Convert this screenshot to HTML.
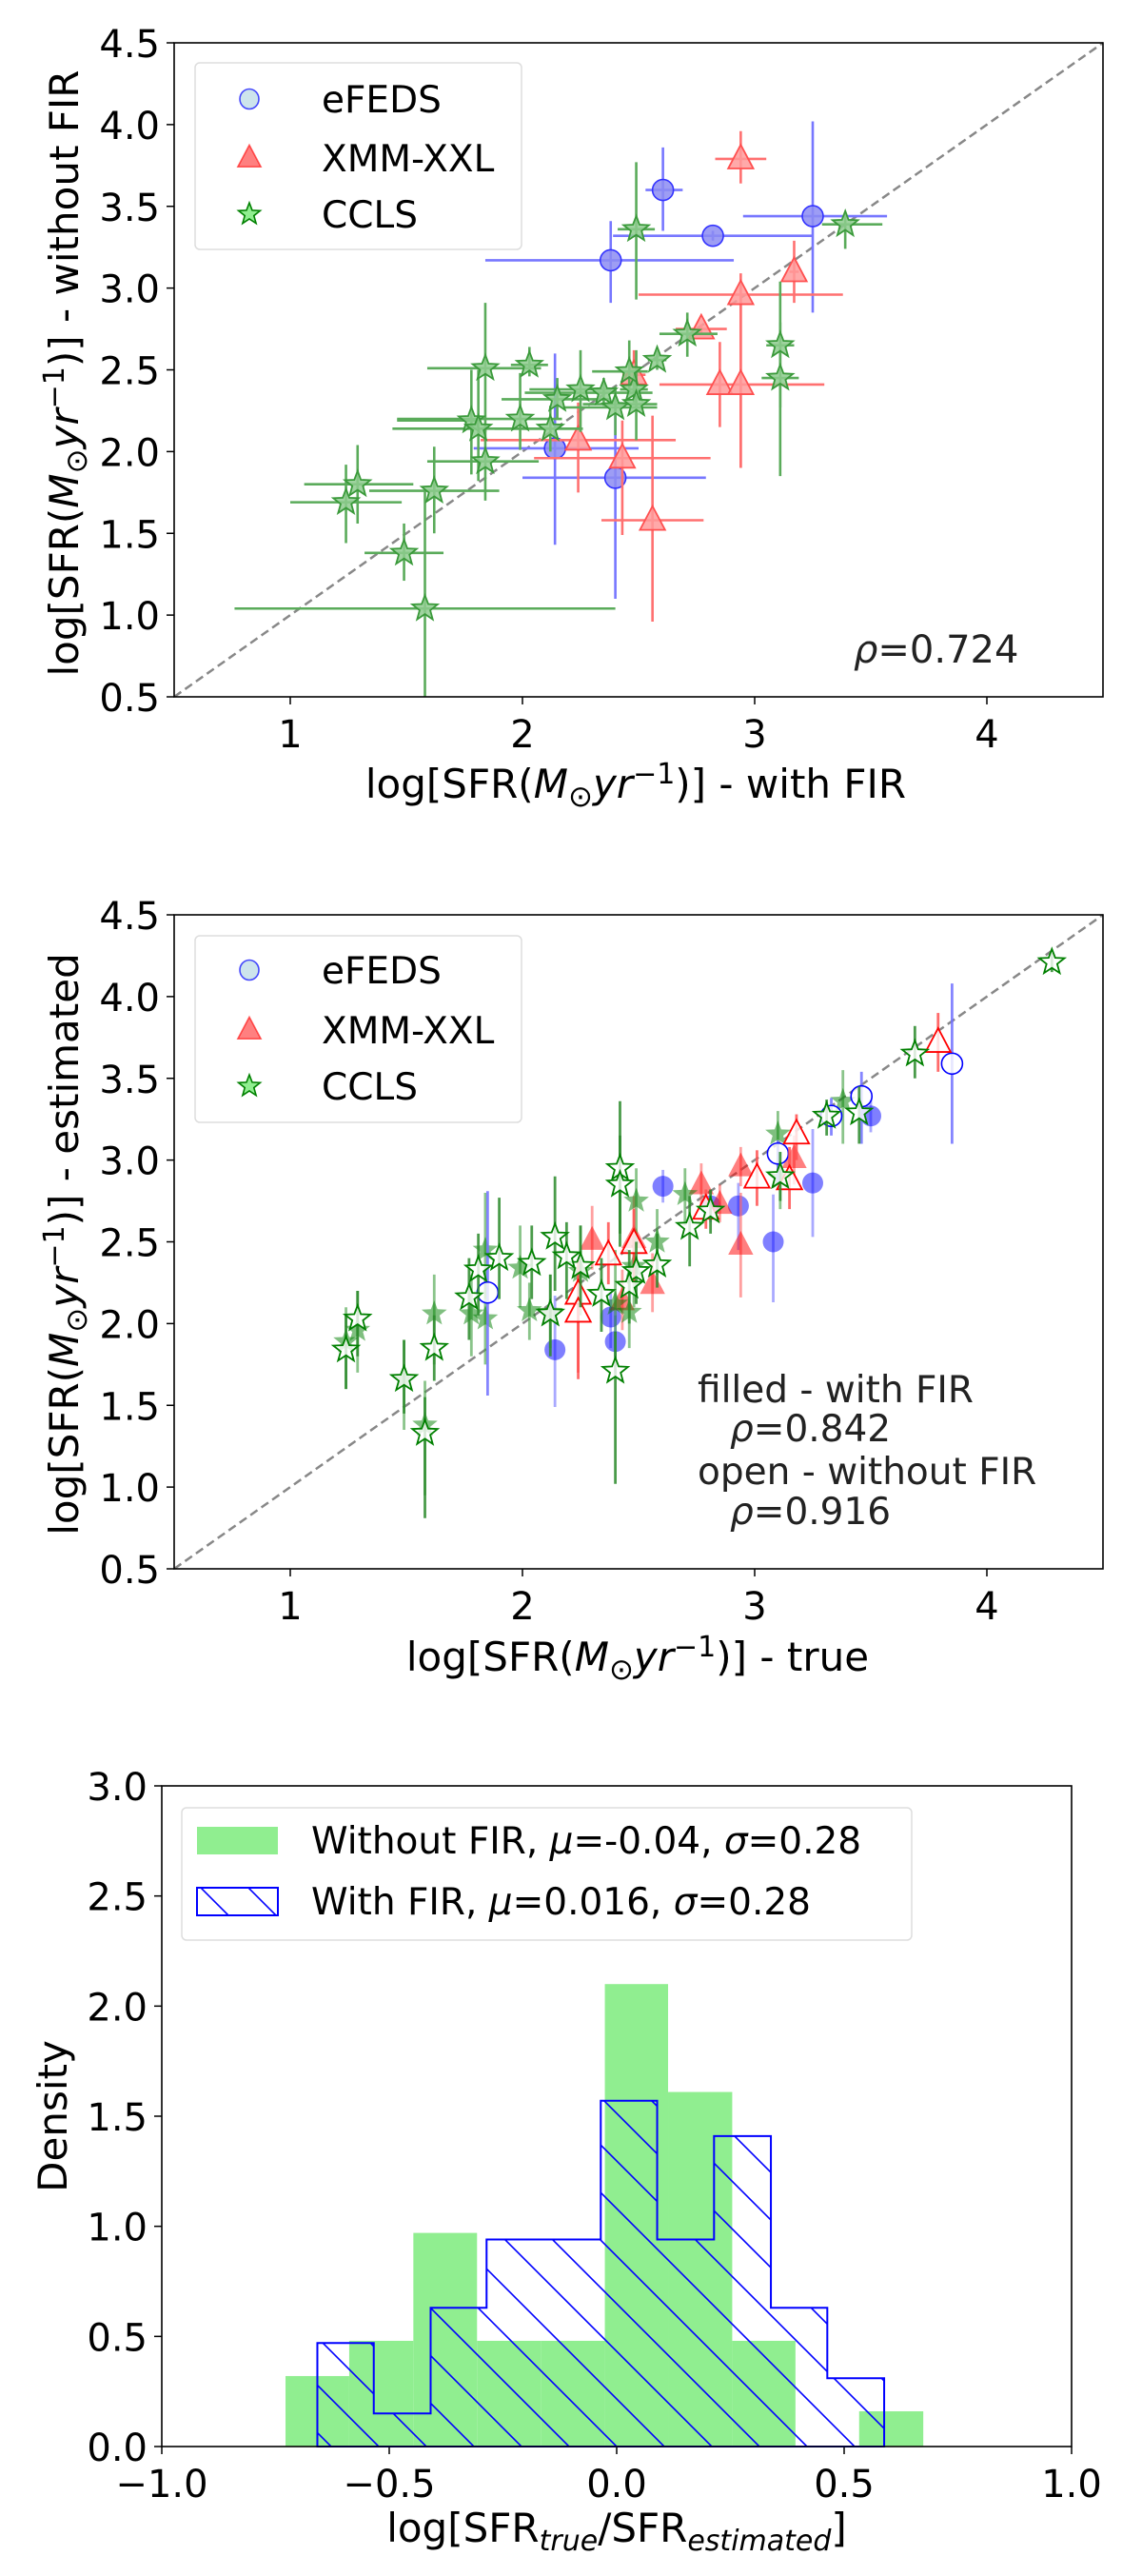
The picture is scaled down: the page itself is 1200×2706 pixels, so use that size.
<!DOCTYPE html>
<html><head><meta charset="utf-8"><style>
html,body{margin:0;padding:0;background:#fff}
svg text{font-family:"DejaVu Sans","Liberation Sans",sans-serif}
</style></head><body>
<svg id="fig" xmlns="http://www.w3.org/2000/svg" width="1200" height="2701" viewBox="0 0 1200 2701">
<defs>
<pattern id="hatch" patternUnits="userSpaceOnUse" x="28" y="0" width="50" height="50">
<path d="M0,0 L50,50 M-2,48 L2,52 M48,-2 L52,2" stroke="#0000ff" stroke-width="1.6"/>
</pattern>
</defs>
<g id="p1"></g>
<g id="p2"></g>
<g id="p3"></g>
</svg>
<script>
// ---------- Panel 1 data (with FIR vs without FIR) ----------
const p1EfedsX=[2.605,2.82,2.38,3.25,2.14,2.40];
const p1EfedsY=[3.60,3.32,3.17,3.44,2.02,1.84];
const p1EfedsXlo=[2.53,2.39,1.84,2.95,1.79,2.00];
const p1EfedsXhi=[2.69,3.25,2.91,3.57,2.50,2.79];
const p1EfedsYlo=[3.35,3.29,2.91,2.85,1.43,1.10];
const p1EfedsYhi=[3.86,3.35,3.41,4.02,2.60,2.29];
const p1XxlX=[2.94,3.17,2.94,2.77,2.48,2.85,2.94,2.24,2.43,2.56];
const p1XxlY=[3.79,3.10,2.96,2.75,2.47,2.41,2.41,2.07,1.96,1.58];
const p1XxlXlo=[2.83,3.15,2.50,2.66,2.43,2.83,2.59,1.82,2.05,2.34];
const p1XxlXhi=[3.05,3.19,3.38,2.88,2.53,2.87,3.30,2.66,2.81,2.78];
const p1XxlYlo=[3.64,2.91,1.90,2.72,2.35,2.15,1.90,1.75,1.49,0.96];
const p1XxlYhi=[3.96,3.29,3.04,2.78,2.62,2.67,3.09,2.30,2.19,2.22];
const p1CclsX=[2.49,3.39,2.71,2.58,3.11,3.11,1.84,2.03,2.25,2.15,2.35,2.48,2.40,2.49,2.46,1.99,1.78,1.81,2.12,1.84,1.29,1.24,1.62,1.49,1.58];
const p1CclsY=[3.36,3.39,2.72,2.56,2.65,2.45,2.51,2.53,2.38,2.32,2.36,2.38,2.27,2.29,2.49,2.20,2.19,2.14,2.14,1.94,1.80,1.69,1.76,1.38,1.04];
const p1CclsXlo=[2.41,3.29,2.59,2.54,3.05,3.03,1.59,1.95,2.03,1.91,2.01,2.42,2.17,2.26,2.30,1.46,1.46,1.44,1.88,1.59,1.06,1.00,1.34,1.32,0.76];
const p1CclsXhi=[2.57,3.55,2.84,2.62,3.17,3.19,2.08,2.11,2.38,2.38,2.56,2.54,2.58,2.58,2.54,2.17,1.80,2.26,2.26,2.07,1.53,1.48,1.90,1.66,2.40];
const p1CclsYlo=[2.93,3.24,2.58,2.50,2.27,1.85,2.12,2.46,2.12,2.20,2.28,2.30,2.10,2.07,2.35,2.01,1.86,1.82,2.00,1.70,1.56,1.44,1.50,1.21,0.50];
const p1CclsYhi=[3.77,3.46,2.85,2.62,3.04,2.79,2.91,2.64,2.62,2.45,2.45,2.45,2.40,2.62,2.68,2.48,2.50,2.50,2.28,2.16,2.04,1.92,2.03,1.56,1.77];

// ---------- Panel 2 data (true vs estimated) ----------
const p2EfedsFX=[2.605,2.93,3.08,3.25,2.14,2.38,2.40,3.50,2.81];
const p2EfedsFY=[2.84,2.72,2.50,2.86,1.84,2.04,1.89,3.27,2.72];
const p2EfedsFYlo=[2.74,2.45,2.13,2.53,1.49,1.85,1.70,3.17,2.62];
const p2EfedsFYhi=[2.94,2.86,2.79,3.19,2.17,2.20,2.05,3.37,2.82];
const p2EfedsOX=[1.85,3.10,3.46,3.33,3.85];
const p2EfedsOY=[2.19,3.04,3.39,3.27,3.59];
const p2EfedsOYlo=[1.56,2.85,3.10,3.15,3.10];
const p2EfedsOYhi=[2.81,3.12,3.54,3.38,4.08];
const p2XxlFX=[2.94,2.94,2.77,2.85,2.30,3.17,2.48,2.56,2.43];
const p2XxlFY=[2.96,2.48,2.85,2.73,2.51,3.01,2.52,2.24,2.14];
const p2XxlFYlo=[2.84,2.16,2.72,2.62,2.33,2.85,2.25,2.07,1.96];
const p2XxlFYhi=[3.08,2.80,2.98,2.85,2.72,3.15,2.78,2.43,2.33];
const p2XxlOX=[3.79,3.18,3.01,3.15,2.79,2.48,2.37,2.24,2.24];
const p2XxlOY=[3.72,3.16,2.89,2.88,2.70,2.49,2.42,2.18,2.07];
const p2XxlOYlo=[3.54,3.00,2.72,2.70,2.58,2.25,2.24,1.66,1.70];
const p2XxlOYhi=[3.90,3.28,3.06,3.08,2.82,2.70,2.62,2.39,2.29];
const p2CclsFX=[3.10,3.38,2.70,2.49,2.58,1.84,1.99,2.03,2.12,1.78,1.62,1.29,1.24,1.49,1.58,2.40,2.46,2.25,2.48,1.84,3.11];
const p2CclsFY=[3.16,3.36,2.79,2.75,2.50,2.45,2.34,2.08,2.07,2.06,2.06,1.96,1.89,1.66,1.38,2.12,2.07,2.32,2.35,2.03,2.89];
const p2CclsFYlo=[2.96,3.10,2.60,2.50,2.30,2.15,2.10,1.90,1.85,1.80,1.75,1.70,1.60,1.35,0.95,1.80,1.85,2.05,2.10,1.75,2.70];
const p2CclsFYhi=[3.30,3.55,2.95,2.95,2.70,2.80,2.60,2.25,2.30,2.30,2.30,2.20,2.10,1.90,1.65,2.45,2.35,2.60,2.55,2.35,3.05];
const p2CclsOX=[4.28,3.69,3.45,3.31,3.11,2.81,2.72,2.42,2.42,2.58,2.49,2.46,2.34,2.25,2.19,2.14,2.04,1.90,1.81,1.77,2.12,2.40,1.62,1.49,1.58,1.29,1.24];
const p2CclsOY=[4.21,3.65,3.29,3.27,2.90,2.69,2.59,2.95,2.85,2.36,2.32,2.23,2.18,2.35,2.41,2.53,2.37,2.40,2.33,2.16,2.06,1.71,1.85,1.66,1.33,2.03,1.84];
const p2CclsOYlo=[4.15,3.50,3.10,3.15,2.75,2.55,2.35,2.47,2.55,2.22,2.12,2.00,1.95,2.10,2.15,2.20,2.15,2.15,2.05,1.90,1.80,1.02,1.65,1.45,0.81,1.80,1.60];
const p2CclsOYhi=[4.27,3.82,3.45,3.37,3.05,2.82,2.78,3.36,3.15,2.55,2.50,2.45,2.40,2.60,2.62,2.90,2.60,2.77,2.55,2.40,2.30,1.95,2.05,1.90,1.55,2.20,2.05];

// ---------- Panel 3 data (histograms) ----------
const greenEdges=[-0.728,-0.588,-0.447,-0.307,-0.166,-0.026,0.113,0.254,0.393,0.533,0.674];
const greenDens=[0.32,0.48,0.97,0.48,0.48,2.10,1.61,0.48,0.0,0.16];
const blueEdges=[-0.658,-0.534,-0.409,-0.286,-0.160,-0.035,0.089,0.214,0.339,0.463,0.588];
const blueDens=[0.47,0.15,0.63,0.94,0.94,1.57,0.94,1.41,0.63,0.31];

const NS='http://www.w3.org/2000/svg';
function mk(parent,tag,attrs){const e=document.createElementNS(NS,tag);for(const k in attrs)e.setAttribute(k,attrs[k]);parent.appendChild(e);return e;}
function scale(d0,d1,r0,r1){return v=>r0+(v-d0)/(d1-d0)*(r1-r0);}
function starPath(cx,cy,R){const r=R*0.42;let s='';for(let i=0;i<10;i++){const a=-Math.PI/2+i*Math.PI/5;const rr=i%2?r:R;s+=(i?'L':'M')+(cx+rr*Math.cos(a)).toFixed(1)+','+(cy+rr*Math.sin(a)).toFixed(1);}return s+'Z';}
function triPath(cx,cy,s){return `M${cx},${cy-s*0.62}L${cx+s*0.55},${cy+s*0.42}L${cx-s*0.55},${cy+s*0.42}Z`;}

function frame(g,b,xt,yt,xfmt,yfmt,xlabFn,ylabFn,yLabelRight){
  const X=scale(b.dx0,b.dx1,b.x0,b.x1),Y=scale(b.dy0,b.dy1,b.y1,b.y0);
  xt.forEach(v=>{const x=X(v);
    const t=mk(g,'line',{x1:x,x2:x,y1:b.y1,y2:b.y1+8,stroke:'#000','stroke-width':1.5});
    
    const l=mk(g,'text',{x:x,y:b.y1+53,'font-size':40,'text-anchor':'middle',fill:'#000'});l.textContent=xfmt(v);
    });
  yt.forEach(v=>{const y=Y(v);
    const t=mk(g,'line',{x1:b.x0-8,x2:b.x0,y1:y,y2:y,stroke:'#000','stroke-width':1.5});
    
    const l=mk(g,'text',{x:yLabelRight,y:y+15,'font-size':40,'text-anchor':'end',fill:'#000'});l.textContent=yfmt(v);
    });
  return {X,Y};
}
function box(g,b){const r=mk(g,'rect',{x:b.x0,y:b.y0,width:b.x1-b.x0,height:b.y1-b.y0,fill:'none',stroke:'#000','stroke-width':1.6});
  }
function sfrLabel(g,x,y,rot,suffix,name){
  const t=mk(g,'text',{x:x,y:y,'font-size':42,'text-anchor':'middle',fill:'#000',transform:rot?`rotate(-90 ${x} ${y})`:''});
  
  t.innerHTML='log[SFR(<tspan font-style="italic">M</tspan><tspan font-size="31" dy="9">⊙</tspan><tspan dy="-9" font-style="italic">yr</tspan><tspan font-size="30" dy="-15">−1</tspan><tspan dy="15">)] - '+suffix+'</tspan>';
  return t;
}
function diag(g,X,Y){const l=mk(g,'line',{x1:X(0.5),y1:Y(0.5),x2:X(4.5),y2:Y(4.5),stroke:'#888','stroke-width':2.5,'stroke-dasharray':'9,5'});
  }
function legend(g,x,y,w,h,rows){
  const r=mk(g,'rect',{x:x,y:y,width:w,height:h,rx:5,fill:'#fff','fill-opacity':0.8,stroke:'#ddd','stroke-width':1.5});
  
  rows.forEach(([ry,kind,label])=>{
    const lg=mk(g,'g',{});
    const mx=x+57;
    if(kind==='c')mk(lg,'ellipse',{cx:mx,cy:ry,rx:10,ry:10.5,fill:'#cde4ec',stroke:'#0000ff','stroke-opacity':0.7,'stroke-width':1.6});
    if(kind==='t')mk(lg,'path',{d:triPath(mx,ry,22),fill:'#ff8080',stroke:'#ff0000','stroke-opacity':0.6,'stroke-width':1.6});
    if(kind==='s')mk(lg,'path',{d:starPath(mx,ry,12),fill:'#90ee90',stroke:'#008000','stroke-width':1.6});
    const t=mk(lg,'text',{x:x+133,y:ry+14,'font-size':39,fill:'#000'});t.textContent=label;
  });
}
function marker(g,kind,x,y,fill,stroke,fop,name){
  let e;
  if(kind==='c')e=mk(g,'circle',{cx:x,cy:y,r:11,fill:fill,'fill-opacity':fop,stroke:stroke,'stroke-width':1.6});
  else if(kind==='t')e=mk(g,'path',{d:triPath(x,y,24),fill:fill,'fill-opacity':fop,stroke:stroke,'stroke-width':1.8});
  else e=mk(g,'path',{d:starPath(x,y,14),fill:fill,'fill-opacity':fop,stroke:stroke,'stroke-width':1.8});
  
}

// ===== Panel 1 =====
(function(){
  const g=document.getElementById('p1');
  const b={x0:183,x1:1159,y0:45,y1:732,dx0:0.5,dx1:4.5,dy0:0.5,dy1:4.5};
  const {X,Y}=frame(g,b,[1,2,3,4],[0.5,1,1.5,2,2.5,3,3.5,4,4.5],v=>String(v),v=>v.toFixed(1),null,null,168);
  sfrLabel(g,668,838,false,'with FIR','x-axis-title');
  sfrLabel(g,82,392,true,'without FIR','y-axis-title');
  diag(g,X,Y);
  const series=[
    [p1EfedsX,p1EfedsY,p1EfedsXlo,p1EfedsXhi,p1EfedsYlo,p1EfedsYhi,'c','#7777ff','#8c8cf2','#3333ff','efeds-point'],
    [p1XxlX,p1XxlY,p1XxlXlo,p1XxlXhi,p1XxlYlo,p1XxlYhi,'t','#ff7070','#ff9a9a','#ff5050','xmm-xxl-point'],
    [p1CclsX,p1CclsY,p1CclsXlo,p1CclsXhi,p1CclsYlo,p1CclsYhi,'s','#5aab5a','#8ecb8e','#3a9a3a','ccls-point']];
  series.forEach(([xs,ys,xl,xh,yl,yh,k,ec,fc,sc,nm])=>{
    xs.forEach((v,i)=>{
      const e1=mk(g,'line',{x1:X(xl[i]),x2:X(xh[i]),y1:Y(ys[i]),y2:Y(ys[i]),stroke:ec,'stroke-width':2.6});
      
      const e2=mk(g,'line',{x1:X(v),x2:X(v),y1:Y(yl[i]),y2:Y(yh[i]),stroke:ec,'stroke-width':2.6});
      
    });
    xs.forEach((v,i)=>marker(g,k,X(v),Y(ys[i]),fc,sc,0.85,nm));
  });
  box(g,b);
  legend(g,205,66,343,196,[[104,'c','eFEDS'],[166,'t','XMM-XXL'],[225,'s','CCLS']]);
  const t=mk(g,'text',{x:897,y:696,'font-size':40,fill:'#222'});t.innerHTML='<tspan font-style="italic">ρ</tspan>=0.724';
  
})();

// ===== Panel 2 =====
(function(){
  const g=document.getElementById('p2');
  const b={x0:183,x1:1159,y0:961,y1:1648,dx0:0.5,dx1:4.5,dy0:0.5,dy1:4.5};
  const {X,Y}=frame(g,b,[1,2,3,4],[0.5,1,1.5,2,2.5,3,3.5,4,4.5],v=>String(v),v=>v.toFixed(1),null,null,168);
  sfrLabel(g,670,1755,false,'true','x-axis-title');
  sfrLabel(g,82,1307,true,'estimated','y-axis-title');
  diag(g,X,Y);
  const series=[
    [p2EfedsFX,p2EfedsFY,p2EfedsFYlo,p2EfedsFYhi,'c',true,'#7070ff','#0000ff','efeds-filled-point'],
    [p2XxlFX,p2XxlFY,p2XxlFYlo,p2XxlFYhi,'t',true,'#ff6060','#ff0000','xmm-xxl-filled-point'],
    [p2CclsFX,p2CclsFY,p2CclsFYlo,p2CclsFYhi,'s',true,'#3c9c3c','#008000','ccls-filled-point'],
    [p2EfedsOX,p2EfedsOY,p2EfedsOYlo,p2EfedsOYhi,'c',false,'#7070ff','#0000ff','efeds-open-point'],
    [p2XxlOX,p2XxlOY,p2XxlOYlo,p2XxlOYhi,'t',false,'#ff5050','#ff0000','xmm-xxl-open-point'],
    [p2CclsOX,p2CclsOY,p2CclsOYlo,p2CclsOYhi,'s',false,'#2a8a2a','#008000','ccls-open-point']];
  series.forEach(([xs,ys,yl,yh,k,filled,ec,sc,nm])=>{
    xs.forEach((v,i)=>{
      const e=mk(g,'line',{x1:X(v),x2:X(v),y1:Y(yl[i]),y2:Y(yh[i]),stroke:ec,'stroke-width':2.8,'stroke-opacity':filled?0.6:0.85});
      
    });
    xs.forEach((v,i)=>{
      if(filled)marker(g,k,X(v),Y(ys[i]),sc,'none',0.5,nm);
      else marker(g,k,X(v),Y(ys[i]),'#ffffff',sc,0.8,nm);
    });
  });
  box(g,b);
  legend(g,205,983,343,196,[[1019,'c','eFEDS'],[1082,'t','XMM-XXL'],[1141,'s','CCLS']]);
  const lines=[[733,1473,'filled - with FIR'],[767,1514,null,'0.842'],[733,1559,'open - without FIR'],[767,1601,null,'0.916']];
  lines.forEach(([x,y,s,r])=>{const t=mk(g,'text',{x:x,y:y,'font-size':39,fill:'#222'});
    if(s)t.textContent=s;else t.innerHTML='<tspan font-style="italic">ρ</tspan>='+r;
    });
})();

// ===== Panel 3 =====
(function(){
  const g=document.getElementById('p3');
  const b={x0:170,x1:1126,y0:1876,y1:2570,dx0:-1,dx1:1,dy0:0,dy1:3};
  const {X,Y}=frame(g,b,[-1,-0.5,0,0.5,1],[0,0.5,1,1.5,2,2.5,3],v=>(v<0?'−':'')+Math.abs(v).toFixed(1),v=>v.toFixed(1),null,null,155);
  greenDens.forEach((d,i)=>{if(d<=0)return;
    const r=mk(g,'rect',{x:X(greenEdges[i]),y:Y(d),width:X(greenEdges[i+1])-X(greenEdges[i]),height:Y(0)-Y(d),fill:'#90ee90'});
    });
  let p='M'+X(blueEdges[0])+','+Y(0);
  blueDens.forEach((d,i)=>{p+='L'+X(blueEdges[i])+','+Y(d)+'L'+X(blueEdges[i+1])+','+Y(d);});
  p+='L'+X(blueEdges[blueEdges.length-1])+','+Y(0)+'Z';
  const h=mk(g,'path',{d:p,fill:'url(#hatch)',stroke:'#0000ff','stroke-width':2});
  
  box(g,b);
  const xl=mk(g,'text',{x:648,y:2670,'font-size':42,'text-anchor':'middle',fill:'#000'});
  xl.innerHTML='log[SFR<tspan font-size="30" font-style="italic" dy="9">true</tspan><tspan dy="-9">/SFR</tspan><tspan font-size="30" font-style="italic" dy="9">estimated</tspan><tspan dy="-9">]</tspan>';
  
  const yl=mk(g,'text',{x:70,y:2223,'font-size':42,'text-anchor':'middle',fill:'#000',transform:'rotate(-90 70 2223)'});yl.textContent='Density';
  
  const lb=mk(g,'rect',{x:191,y:1899,width:767,height:139,rx:5,fill:'#fff','fill-opacity':0.8,stroke:'#ddd','stroke-width':1.5});
  
  const e1=mk(g,'g',{});
  mk(e1,'rect',{x:207,y:1919,width:85,height:29,fill:'#90ee90'});
  const t1=mk(e1,'text',{x:327,y:1947,'font-size':39,fill:'#000'});t1.innerHTML='Without FIR, <tspan font-style="italic">μ</tspan>=-0.04, <tspan font-style="italic">σ</tspan>=0.28';
  const e2=mk(g,'g',{});
  mk(e2,'rect',{x:207,y:1983,width:85,height:29,fill:'url(#hatch)',stroke:'#0000ff','stroke-width':2});
  const t2=mk(e2,'text',{x:327,y:2011,'font-size':39,fill:'#000'});t2.innerHTML='With FIR, <tspan font-style="italic">μ</tspan>=0.016, <tspan font-style="italic">σ</tspan>=0.28';
})();
</script>
</body></html>
